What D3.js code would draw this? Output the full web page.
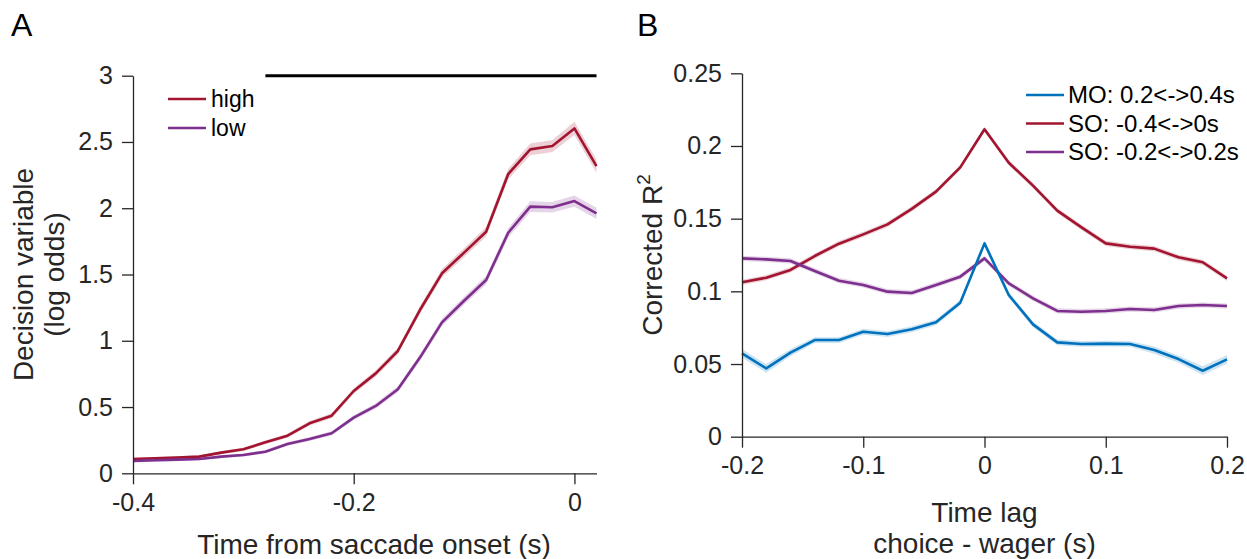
<!DOCTYPE html>
<html>
<head>
<meta charset="utf-8">
<script src="https://cdn.jsdelivr.net/npm/d3@7"></script>
<style>
  html, body { margin: 0; padding: 0; background: #fff; }
  svg { display: block; font-family: "Liberation Sans", Arial, Helvetica, sans-serif; }
  .axis path, .axis line { stroke: #262626; stroke-width: 1.3; }
  .axis text { fill: #262626; font-size: 25px; font-family: "Liberation Sans", Arial, sans-serif; }
</style>
</head>
<body>
<svg id="fig" width="1247" height="559"></svg>
<script>
// ---------- Panel A: decision variable around saccade onset ----------
const timeA = [-0.40, -0.38, -0.36, -0.34, -0.32, -0.30, -0.28, -0.26, -0.24, -0.22, -0.20,
               -0.18, -0.16, -0.14, -0.12, -0.10, -0.08, -0.06, -0.04, -0.02, 0.00, 0.02];
const dvHigh = [0.108, 0.113, 0.118, 0.126, 0.156, 0.181, 0.234, 0.284, 0.377, 0.435, 0.621,
                0.754, 0.923, 1.232, 1.509, 1.665, 1.823, 2.258, 2.444, 2.469, 2.602, 2.318];
const dvLow  = [0.093, 0.098, 0.103, 0.108, 0.126, 0.138, 0.163, 0.221, 0.259, 0.302, 0.420,
                0.508, 0.634, 0.873, 1.139, 1.302, 1.458, 1.815, 2.012, 2.007, 2.054, 1.961];
const semHigh = [0.010, 0.010, 0.010, 0.010, 0.012, 0.012, 0.014, 0.015, 0.017, 0.019, 0.021,
                 0.023, 0.025, 0.028, 0.032, 0.034, 0.036, 0.040, 0.044, 0.045, 0.050, 0.050];
const semLow  = [0.010, 0.010, 0.010, 0.010, 0.011, 0.011, 0.012, 0.013, 0.015, 0.016, 0.018,
                 0.020, 0.022, 0.025, 0.028, 0.030, 0.032, 0.036, 0.040, 0.040, 0.042, 0.042];
const sigWindowA = [-0.28, 0.02];
const xTicksA = [-0.4, -0.2, 0];
const xTickLabelsA = ["-0.4", "-0.2", "0"];
const yTicksA = [0, 0.5, 1, 1.5, 2, 2.5, 3];
const yTickLabelsA = ["0", "0.5", "1", "1.5", "2", "2.5", "3"];
const legendA = ["high", "low"];

// ---------- Panel B: corrected R² vs. choice-wager time lag ----------
const lagB = [-0.20, -0.18, -0.16, -0.14, -0.12, -0.10, -0.08, -0.06, -0.04, -0.02, 0.00,
              0.02, 0.04, 0.06, 0.08, 0.10, 0.12, 0.14, 0.16, 0.18, 0.20];
const r2MO    = [0.0573, 0.0470, 0.0578, 0.0665, 0.0665, 0.0722, 0.0706, 0.0739, 0.0787, 0.0922, 0.1330,
                 0.0975, 0.0773, 0.0649, 0.0638, 0.0640, 0.0638, 0.0596, 0.0534, 0.0454, 0.0532];
const r2SOpre = [0.1062, 0.1094, 0.1147, 0.1243, 0.1328, 0.1392, 0.1461, 0.1567, 0.1686, 0.1853, 0.2115,
                 0.1885, 0.1727, 0.1555, 0.1440, 0.1330, 0.1307, 0.1294, 0.1234, 0.1200, 0.1089];
const r2SOmid = [0.1227, 0.1220, 0.1209, 0.1140, 0.1073, 0.1044, 0.0998, 0.0989, 0.1044, 0.1101, 0.1227,
                 0.1055, 0.0952, 0.0865, 0.0860, 0.0865, 0.0878, 0.0872, 0.0899, 0.0906, 0.0899];
const semMO    = [0.0030, 0.0030, 0.0025, 0.0020, 0.0020, 0.0020, 0.0020, 0.0020, 0.0020, 0.0020, 0.0020,
                  0.0020, 0.0020, 0.0020, 0.0020, 0.0020, 0.0020, 0.0025, 0.0025, 0.0030, 0.0030];
const semSOpre = Array(21).fill(0.0018);
const semSOmid = Array(21).fill(0.0018);
const xTicksB = [-0.2, -0.1, 0, 0.1, 0.2];
const xTickLabelsB = ["-0.2", "-0.1", "0", "0.1", "0.2"];
const yTicksB = [0, 0.05, 0.1, 0.15, 0.2, 0.25];
const yTickLabelsB = ["0", "0.05", "0.1", "0.15", "0.2", "0.25"];
const legendB = ["MO: 0.2<->0.4s", "SO: -0.4<->0s", "SO: -0.2<->0.2s"];

const RED = "#A2142F", PURPLE = "#7E2F8E", BLUE = "#0072BD", INK = "#262626";
const svg = d3.select("#fig");

function drawAxes(g, x, y, xt, xl, yt, yl) {
  const ax = d3.axisBottom(x).tickValues(xt).tickFormat((d, i) => xl[i])
    .tickSizeInner(11).tickSizeOuter(0).tickPadding(9);
  const ay = d3.axisLeft(y).tickValues(yt).tickFormat((d, i) => yl[i])
    .tickSizeInner(11).tickSizeOuter(0).tickPadding(9);
  g.append("g").attr("class", "axis").attr("transform", `translate(0,${y.range()[0]})`).call(ax);
  g.append("g").attr("class", "axis").attr("transform", `translate(${x.range()[0]},0)`).call(ay);
}

function drawSeries(g, x, y, xs, ys, es, color) {
  const area = d3.area().x((d, i) => x(xs[i])).y0((d, i) => y(ys[i] - es[i])).y1((d, i) => y(ys[i] + es[i]));
  const line = d3.line().x((d, i) => x(xs[i])).y((d, i) => y(ys[i]));
  g.append("path").attr("d", area(ys)).attr("fill", color).attr("fill-opacity", 0.2).attr("stroke", "none");
  g.append("path").attr("d", line(ys)).attr("fill", "none").attr("stroke", color)
    .attr("stroke-width", 2.6).attr("stroke-linejoin", "round");
}

// ---------- Panel A ----------
const gA = svg.append("g");
const xA = d3.scaleLinear().domain([-0.4, 0.02]).range([133, 596.5]);
const yA = d3.scaleLinear().domain([0, 3]).range([473.3, 75.7]);

drawSeries(gA, xA, yA, timeA, dvHigh, semHigh, RED);
drawSeries(gA, xA, yA, timeA, dvLow, semLow, PURPLE);
drawAxes(gA, xA, yA, xTicksA, xTickLabelsA, yTicksA, yTickLabelsA);

// significance bar along the top
gA.append("line")
  .attr("x1", xA(sigWindowA[0])).attr("x2", xA(sigWindowA[1]))
  .attr("y1", yA(3)).attr("y2", yA(3))
  .attr("stroke", "#000").attr("stroke-width", 3);

// legend
[RED, PURPLE].forEach((c, i) => {
  const ly = 99 + i * 29;
  gA.append("line").attr("x1", 168).attr("x2", 206).attr("y1", ly).attr("y2", ly)
    .attr("stroke", c).attr("stroke-width", 2.6);
  gA.append("text").attr("x", 211).attr("y", ly + 8).attr("font-size", 23).attr("fill", "#000")
    .text(legendA[i]);
});

gA.append("text").attr("x", 374).attr("y", 554).attr("text-anchor", "middle")
  .attr("font-size", 28).attr("fill", INK).text("Time from saccade onset (s)");
const yTitleA = gA.append("text").attr("transform", "translate(33,274.5) rotate(-90)")
  .attr("text-anchor", "middle").attr("font-size", 28).attr("fill", INK);
yTitleA.append("tspan").attr("x", 0).attr("y", 0).text("Decision variable");
yTitleA.append("tspan").attr("x", 0).attr("y", 31).text("(log odds)");

svg.append("text").attr("x", 11).attr("y", 36).attr("font-size", 32).attr("fill", "#000").text("A");

// ---------- Panel B ----------
const gB = svg.append("g");
const xB = d3.scaleLinear().domain([-0.2, 0.2]).range([742, 1227]);
const yB = d3.scaleLinear().domain([0, 0.25]).range([436.7, 73.3]);

drawSeries(gB, xB, yB, lagB, r2SOpre, semSOpre, RED);
drawSeries(gB, xB, yB, lagB, r2SOmid, semSOmid, PURPLE);
drawSeries(gB, xB, yB, lagB, r2MO, semMO, BLUE);
drawAxes(gB, xB, yB, xTicksB, xTickLabelsB, yTicksB, yTickLabelsB);

[BLUE, RED, PURPLE].forEach((c, i) => {
  const ly = 95 + i * 28.5;
  gB.append("line").attr("x1", 1026).attr("x2", 1064).attr("y1", ly).attr("y2", ly)
    .attr("stroke", c).attr("stroke-width", 2.6);
  gB.append("text").attr("x", 1068).attr("y", ly + 8).attr("font-size", 24).attr("fill", "#000")
    .text(legendB[i]);
});

const cx = (xB.range()[0] + xB.range()[1]) / 2;
gB.append("text").attr("x", cx).attr("y", 522).attr("text-anchor", "middle")
  .attr("font-size", 28).attr("fill", INK).text("Time lag");
gB.append("text").attr("x", cx).attr("y", 553).attr("text-anchor", "middle")
  .attr("font-size", 28).attr("fill", INK).text("choice - wager (s)");
const yTitleB = gB.append("text").attr("transform", `translate(662,${(yB.range()[0] + yB.range()[1]) / 2}) rotate(-90)`)
  .attr("text-anchor", "middle").attr("font-size", 28).attr("fill", INK);
yTitleB.append("tspan").text("Corrected R");
yTitleB.append("tspan").attr("font-size", 19).attr("dy", -12).text("2");

svg.append("text").attr("x", 637).attr("y", 36).attr("font-size", 32).attr("fill", "#000").text("B");
</script>
</body>
</html>
